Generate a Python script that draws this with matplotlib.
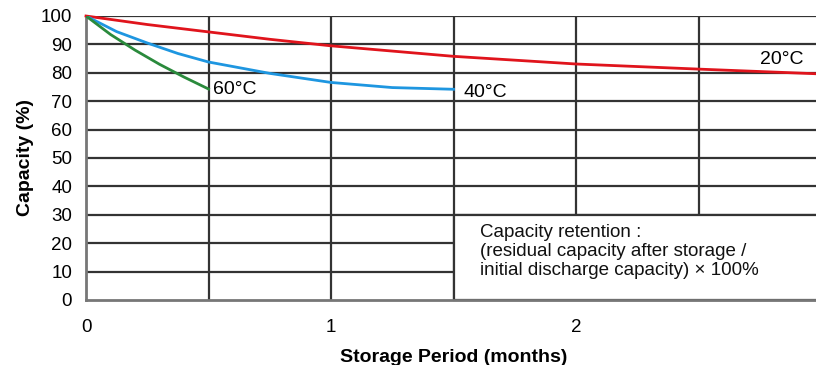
import matplotlib.pyplot as plt
from matplotlib.patches import Rectangle

plt.rcParams['font.family'] = ['Liberation Sans', 'DejaVu Sans']

# storage curves (months, % capacity)
months_20 = [0, 0.25, 0.5, 0.75, 1.0, 1.5, 2.0, 2.5, 3.0]
cap_20 = [100, 97.0, 94.4, 91.8, 89.5, 85.8, 83.1, 81.3, 79.6]
months_40 = [0, 0.125, 0.25, 0.375, 0.5, 0.75, 1.0, 1.25, 1.5]
cap_40 = [100, 94.5, 90.5, 86.8, 83.8, 79.8, 76.6, 74.8, 74.2]
months_60 = [0, 0.1, 0.2, 0.3, 0.4, 0.5]
cap_60 = [100, 93.5, 88.0, 83.0, 78.5, 74.3]

xticks = [0, 1, 2, 3]
yticks = list(range(0, 101, 10))

fig = plt.figure(figsize=(8.16, 3.65), dpi=100)
ax = fig.add_axes([86/816, 1 - 300/365, (821-86)/816, (300-16)/365])
ax.set_xlim(0, 3)
ax.set_ylim(0, 100)

grid_c = '#333333'
for yv in yticks[1:]:
    ax.axhline(yv, color=grid_c, lw=1.6, zorder=1)
for xv in [0.5, 1, 1.5, 2, 2.5, 3]:
    ax.axvline(xv, color=grid_c, lw=1.6, zorder=1)

# note box over the lower right corner
ax.add_patch(Rectangle((1.5, 0), 1.5, 30, facecolor='white', edgecolor=grid_c,
                       lw=1.6, zorder=2, clip_on=False))
ax.text(1.61, 26.8, 'Capacity retention :\n(residual capacity after storage /\ninitial discharge capacity) \u00d7 100%',
        fontsize=13.5, va='top', ha='left', linespacing=1.15, zorder=3, color='#111111')

ax.plot(months_20, cap_20, color='#e0141c', lw=2, zorder=4, clip_on=False)
ax.plot(months_40, cap_40, color='#1e96e0', lw=2, zorder=4)
ax.plot(months_60, cap_60, color='#2a8a3c', lw=2, zorder=4)

ax.text(0.52, 74, '60\u00b0C', fontsize=14, va='center', ha='left')
ax.text(1.54, 73.2, '40\u00b0C', fontsize=14, va='center', ha='left')
ax.text(2.75, 84.8, '20\u00b0C', fontsize=14, va='center', ha='left')

for s in ['top', 'right']:
    ax.spines[s].set_visible(False)
for s in ['left', 'bottom']:
    ax.spines[s].set_color('#777777')
    ax.spines[s].set_linewidth(2)

ax.set_xticks(xticks)
ax.set_yticks(yticks)
ax.tick_params(length=0, labelsize=13.5)
ax.tick_params(axis='y', pad=10)
ax.tick_params(axis='x', pad=14)
ax.set_xlabel('Storage Period (months)', fontsize=14, fontweight='bold', labelpad=9)
ax.set_ylabel('Capacity (%)', fontsize=14, fontweight='bold', labelpad=5)

fig.savefig('out.png', dpi=100)
